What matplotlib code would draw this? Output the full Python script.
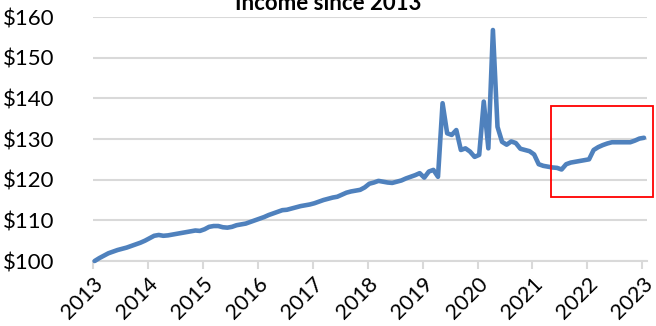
import matplotlib
matplotlib.use("Agg")
import matplotlib.pyplot as plt
from matplotlib.patches import Rectangle
import numpy as np
import pandas as pd

title = "Income since 2013"
start = "2013-01-12"
income = [
    100.0, 100.7, 101.3, 101.9, 102.3, 102.7, 103.0, 103.3, 103.7, 104.1, 104.5, 105.0,  # 2013
    105.6, 106.2, 106.4, 106.2, 106.3, 106.5, 106.7, 106.9, 107.1, 107.3, 107.5, 107.4,  # 2014
    107.8, 108.4, 108.6, 108.6, 108.3, 108.2, 108.4, 108.8, 109.0, 109.2, 109.6, 110.0,  # 2015
    110.4, 110.8, 111.3, 111.7, 112.1, 112.5, 112.6, 112.9, 113.2, 113.5, 113.7, 113.9,  # 2016
    114.2, 114.6, 115.0, 115.3, 115.6, 115.8, 116.3, 116.8, 117.1, 117.3, 117.5, 118.1,  # 2017
    119.0, 119.3, 119.7, 119.5, 119.3, 119.2, 119.5, 119.8, 120.3, 120.7, 121.1, 121.6,  # 2018
    120.5, 122.0, 122.4, 120.7, 138.8, 131.4, 131.0, 132.2, 127.3, 127.7, 126.9, 125.6,  # 2019
    126.1, 139.2, 127.7, 156.8, 133.0, 129.3, 128.6, 129.4, 129.0, 127.6, 127.3, 127.0,  # 2020
    126.2, 123.8, 123.4, 123.2, 123.0, 122.9, 122.5, 123.8, 124.2, 124.4, 124.6, 124.8,  # 2021
    125.0, 127.3, 128.0, 128.5, 128.9, 129.2, 129.2, 129.2, 129.2, 129.2, 129.6, 130.1,  # 2022
    130.3,                                                                               # 2023
]
years = list(range(2013, 2024))
ytick_vals = [100, 110, 120, 130, 140, 150, 160]
ytick_labels = [f"${v}" for v in ytick_vals]
highlight_x = (2021.34, 2023.20)
highlight_y = (115.7, 138.2)

dates = pd.date_range(start, periods=len(income), freq=pd.DateOffset(months=1))
x = dates.year + (dates.month - 1) / 12.0 + (dates.day - 1) / 365.0

plt.rcParams["font.family"] = ["Lato", "DejaVu Sans"]

fig = plt.figure(figsize=(6.56, 3.26), dpi=100)
ax = fig.add_axes([93 / 656, 1 - 261 / 326, (647 - 93) / 656, (261 - 17) / 326])

grid_c = "#d9d9d9"
ax.set_ylim(100, 160)
ax.set_xlim(2013, 2023.085)
ax.set_yticks(ytick_vals)
ax.set_yticklabels(ytick_labels, fontsize=16, color="#000000")
ax.set_xticks(years)
ax.set_xticklabels([str(y) for y in years], rotation=45, ha="right", va="top",
                   rotation_mode="anchor", fontsize=15.5, color="#000000")
ax.tick_params(axis="x", length=6, width=1.5, color=grid_c, pad=3)
ax.tick_params(axis="y", length=0, pad=0)
for lbl in ax.get_yticklabels():
    lbl.set_horizontalalignment("left")
    lbl.set_x(-93 / 554 + 3 / 554)
ax.yaxis.grid(True, color=grid_c, linewidth=1.5)
ax.set_axisbelow(True)
for s in ["top", "right", "left"]:
    ax.spines[s].set_visible(False)
ax.spines["bottom"].set_color(grid_c)
ax.spines["bottom"].set_linewidth(1.5)

ax.plot(x, income, color="#4f81bd", linewidth=3.3, solid_capstyle="round",
        solid_joinstyle="round", clip_on=False, zorder=3)

rect = Rectangle((highlight_x[0], highlight_y[0]), highlight_x[1] - highlight_x[0],
                 highlight_y[1] - highlight_y[0], fill=False, edgecolor="#ff0000",
                 linewidth=1.3, clip_on=False, zorder=4)
ax.add_patch(rect)

fig.text(0.5, 1 - 10 / 326, title, ha="center", va="baseline", fontsize=16,
         fontweight="bold", color="#000000")

fig.savefig("out.png", dpi=100)
